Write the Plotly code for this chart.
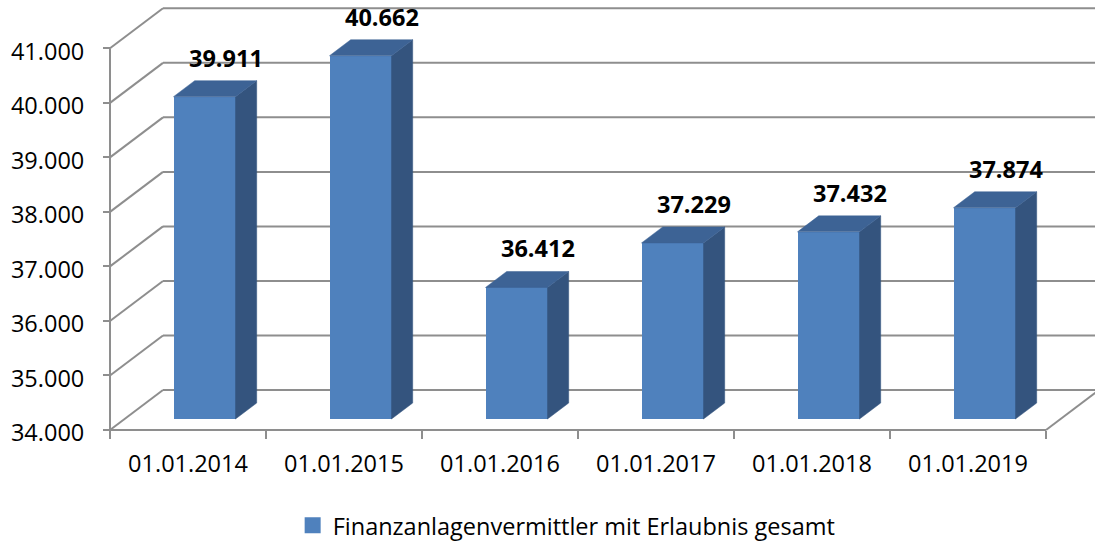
import plotly.graph_objects as go

# ---------------- data ----------------
categories = ["01.01.2014", "01.01.2015", "01.01.2016", "01.01.2017", "01.01.2018", "01.01.2019"]
values = [39911, 40662, 36412, 37229, 37432, 37874]
series_name = "Finanzanlagenvermittler mit Erlaubnis gesamt"
y_ticks = [34000, 35000, 36000, 37000, 38000, 39000, 40000, 41000]

# ---------------- geometry / style ----------------
W, H = 1095, 542
ML, MR, MT, MB = 100, 0, 0, 102
ORIG_PX_X, ORIG_PX_Y = 110, 430          # pixel position of the front axis origin
PX_PER_CAT = 156.0
PX_PER_UNIT = 381.7 / 7000.0             # pixels per value unit
Y_BASE = y_ticks[0]

plot_w = W - ML - MR
plot_h = H - MT - MB
x_lo = -0.5 - (ORIG_PX_X - ML) / PX_PER_CAT
x_hi = -0.5 + (W - MR - ORIG_PX_X) / PX_PER_CAT
y_lo = Y_BASE - ((H - MB) - ORIG_PX_Y) / PX_PER_UNIT
y_hi = Y_BASE + (ORIG_PX_Y - MT) / PX_PER_UNIT

# full depth of the pseudo-3D box (in data units)
DX = 53 / PX_PER_CAT
DV = 40 / PX_PER_UNIT
# bar placement in depth
F_FRONT = 0.275
F_DEPTH = 0.40
BAR_SHIFT = 16.5 / PX_PER_CAT
BAR_W = 62 / PX_PER_CAT

C_FRONT = "#4F81BD"
C_SIDE = "#34547E"
C_TOP = "#3D6395"
C_GRID = "#8E8E8E"
FONT = "Open Sans"
FS = 23.5

fig = go.Figure()

# front faces
xs_front = [i + BAR_SHIFT for i in range(len(values))]
base_front = Y_BASE + F_FRONT * DV
fig.add_trace(go.Bar(
    x=xs_front, y=[v - Y_BASE for v in values], base=base_front,
    width=BAR_W, marker=dict(color=C_FRONT, line=dict(width=0)),
    showlegend=False, hoverinfo="skip",
))

# side faces & top faces
side_x, side_y, top_x, top_y = [], [], [], []
for xc, v in zip(xs_front, values):
    xl, xr = xc - BAR_W / 2, xc + BAR_W / 2
    ddx, ddv = F_DEPTH * DX, F_DEPTH * DV
    top_f = v + F_FRONT * DV
    side_x += [xr, xr, xr + ddx, xr + ddx, xr, None]
    side_y += [base_front, top_f, top_f + ddv, base_front + ddv, base_front, None]
    top_x += [xl, xr, xr + ddx, xl + ddx, xl, None]
    top_y += [top_f, top_f, top_f + ddv, top_f + ddv, top_f, None]

fig.add_trace(go.Scatter(x=side_x, y=side_y, mode="lines", fill="toself",
                         fillcolor=C_SIDE, line=dict(color=C_SIDE, width=0.5),
                         showlegend=False, hoverinfo="skip"))
fig.add_trace(go.Scatter(x=top_x, y=top_y, mode="lines", fill="toself",
                         fillcolor=C_TOP, line=dict(color=C_TOP, width=0.5),
                         showlegend=False, hoverinfo="skip"))

# legend entry
fig.add_trace(go.Scatter(x=[None], y=[None], mode="markers", name=series_name,
                         marker=dict(symbol="square", size=16, color=C_FRONT)))

# gridlines: diagonal on the left wall + horizontal on the back wall
shapes = []
for t in y_ticks:
    shapes.append(dict(type="line", xref="x", yref="y", layer="below",
                       x0=-0.5, y0=t, x1=-0.5 + DX, y1=t + DV,
                       line=dict(color=C_GRID, width=2)))
    shapes.append(dict(type="line", xref="x", yref="y", layer="below",
                       x0=-0.5 + DX, y0=t + DV, x1=x_hi + 1, y1=t + DV,
                       line=dict(color=C_GRID, width=2)))
# left axis line
shapes.append(dict(type="line", xref="x", yref="y", layer="below",
                   x0=-0.5, y0=y_ticks[0], x1=-0.5, y1=y_ticks[-1],
                   line=dict(color=C_GRID, width=2)))
# floor front edge and right diagonal
n = len(categories)
shapes.append(dict(type="line", xref="x", yref="y", layer="below",
                   x0=-0.5, y0=Y_BASE, x1=n - 0.5, y1=Y_BASE,
                   line=dict(color=C_GRID, width=2)))
shapes.append(dict(type="line", xref="x", yref="y", layer="below",
                   x0=n - 0.5, y0=Y_BASE, x1=n - 0.5 + DX, y1=Y_BASE + DV,
                   line=dict(color=C_GRID, width=2)))

# value labels
annotations = []
for xc, v in zip(xs_front, values):
    annotations.append(dict(
        x=xc + F_DEPTH * DX, y=v + (F_FRONT + F_DEPTH) * DV,
        xref="x", yref="y", text=f"{v:,}".replace(",", "."),
        showarrow=False, yanchor="middle", yshift=23,
        font=dict(family=FONT, size=FS, color="black", weight="bold"),
    ))

fig.update_layout(
    width=W, height=H,
    margin=dict(l=ML, r=MR, t=MT, b=MB, autoexpand=False),
    paper_bgcolor="white", plot_bgcolor="white",
    separators=",.",
    font=dict(family=FONT, size=FS, color="black"),
    shapes=shapes, annotations=annotations,
    showlegend=True,
    legend=dict(orientation="h", x=0.469, xanchor="center", y=-0.1945, yanchor="middle",
                font=dict(family=FONT, size=FS, color="black"),
                itemwidth=30, bgcolor="rgba(0,0,0,0)"),
    bargap=0,
    xaxis=dict(range=[x_lo, x_hi], tickmode="array", automargin=False,
               tickvals=list(range(n)), ticktext=categories,
               ticks="", showgrid=False, zeroline=False, showline=False,
               anchor="free", position=((H - MB) - ORIG_PX_Y) / plot_h,
               tickfont=dict(family=FONT, size=FS, color="black"),
               ticklabelstandoff=17,
               minor=dict(tickmode="array", tickvals=[i - 0.5 for i in range(n + 1)],
                          ticks="outside", ticklen=8, tickcolor=C_GRID, tickwidth=2,
                          showgrid=False)),
    yaxis=dict(range=[y_lo, y_hi], tickmode="array", tickvals=y_ticks, automargin=False,
               tickformat=",.0f", ticks="outside", ticklen=7, tickcolor=C_GRID, tickwidth=2,
               showgrid=False, zeroline=False, showline=False,
               anchor="free", position=(ORIG_PX_X - ML) / plot_w,
               tickfont=dict(family=FONT, size=FS, color="black"),
               ticklabelstandoff=14, ticklabelshift=3),
)

fig.write_html("out.html", config={"displayModeBar": False},
               post_script="document.body.style.margin='0';document.body.style.overflow='hidden';")
